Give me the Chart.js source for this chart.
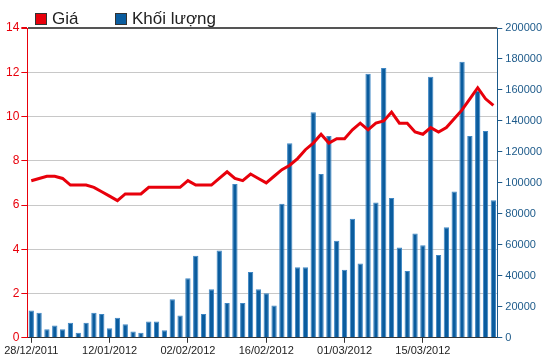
<!DOCTYPE html>
<html>
<head>
<meta charset="utf-8">
<script src="https://cdn.jsdelivr.net/npm/chart.js@4.4.1/dist/chart.umd.min.js"></script>
<style>
  html, body { margin: 0; padding: 0; background: #fff; }
  #wrap { position: relative; width: 550px; height: 364px; }
  #legend { position: absolute; top: 10px; left: 35px; font: 17px "Liberation Sans", Arial, sans-serif; line-height: 17px; color: #222; }
  #legend span.item { position: absolute; white-space: nowrap; }
  #legend i { position: absolute; top: 3px; width: 10px; height: 10px; border: 1px solid #333; }
</style>
</head>
<body>
<div id="wrap">
  <canvas id="chart"></canvas>
  <div id="legend"></div>
</div>
<script>
// Giá / Khối lượng, 28/12/2011 - 28/03/2012

const dates = [
  '28/12/2011', '29/12/2011', '30/12/2011', '03/01/2012', '04/01/2012', '05/01/2012', '06/01/2012', '09/01/2012', '10/01/2012', '11/01/2012',
  '12/01/2012', '13/01/2012', '16/01/2012', '17/01/2012', '18/01/2012', '19/01/2012', '20/01/2012', '30/01/2012', '31/01/2012', '01/02/2012',
  '02/02/2012', '03/02/2012', '06/02/2012', '07/02/2012', '08/02/2012', '09/02/2012', '10/02/2012', '13/02/2012', '14/02/2012', '15/02/2012',
  '16/02/2012', '17/02/2012', '20/02/2012', '21/02/2012', '22/02/2012', '23/02/2012', '24/02/2012', '27/02/2012', '28/02/2012', '29/02/2012',
  '01/03/2012', '02/03/2012', '05/03/2012', '06/03/2012', '07/03/2012', '08/03/2012', '09/03/2012', '12/03/2012', '13/03/2012', '14/03/2012',
  '15/03/2012', '16/03/2012', '19/03/2012', '20/03/2012', '21/03/2012', '22/03/2012', '23/03/2012', '26/03/2012', '27/03/2012', '28/03/2012'
]

const price = [
  7.1, 7.2, 7.3, 7.3, 7.2, 6.9, 6.9, 6.9, 6.8, 6.6,
  6.4, 6.2, 6.5, 6.5, 6.5, 6.8, 6.8, 6.8, 6.8, 6.8,
  7.1, 6.9, 6.9, 6.9, 7.2, 7.5, 7.2, 7.1, 7.4, 7.2,
  7.0, 7.3, 7.6, 7.8, 8.1, 8.5, 8.8, 9.2, 8.8, 9.0,
  9.0, 9.4, 9.7, 9.4, 9.7, 9.8, 10.2, 9.7, 9.7, 9.3,
  9.2, 9.5, 9.3, 9.5, 9.9, 10.3, 10.8, 11.3, 10.8, 10.5
]

const volume = [
  17600, 16100, 5600, 8000, 5600, 9700, 3200, 9700, 16100, 15300,
  6200, 12900, 8800, 4100, 3200, 10500, 10500, 4900, 24900, 14400,
  38500, 52900, 15300, 31400, 56300, 22400, 99300, 22400, 42400, 31400,
  28800, 20900, 86600, 125600, 45600, 45600, 145600, 105800, 130300, 62600,
  43900, 76800, 47900, 170500, 87300, 174200, 90300, 58300, 43200, 67300,
  59800, 168600, 53500, 71400, 94400, 178200, 130300, 159500, 133500, 88800
]

const priceTicks = [0, 2, 4, 6, 8, 10, 12, 14]
const volumeTicks = [0, 20000, 40000, 60000, 80000, 100000, 120000, 140000, 160000, 180000, 200000]

const seriesNames = ['Giá', 'Khối lượng']
const seriesColors = ['#e8000b', '#0a5c9e']

// html legend
const legend = document.getElementById('legend')
const legendX = [0, 80]
seriesNames.forEach((name, i) => {
  const item = document.createElement('span')
  item.className = 'item'
  item.style.left = legendX[i] + 'px'
  item.innerHTML = '<i style="background:' + seriesColors[i] + '"></i><b style="font-weight:normal;margin-left:17px">' + name + '</b>'
  legend.appendChild(item)
})

const font = { family: '"Liberation Sans", Arial, sans-serif', size: 11 }

const ctx = document.getElementById('chart').getContext('2d')
const chart = new Chart(ctx, {
  type: 'bar',
  data: {
    labels: dates,
    datasets: [{
      type: 'line',
      label: seriesNames[0],
      data: price,
      yAxisID: 'y',
      borderColor: seriesColors[0],
      backgroundColor: seriesColors[0],
      borderWidth: 3,
      pointRadius: 0,
      tension: 0,
      order: 0
    }, {
      type: 'bar',
      label: seriesNames[1],
      data: volume,
      yAxisID: 'y1',
      backgroundColor: seriesColors[1],
      borderColor: '#3f87c4',
      borderWidth: { top: 1, left: 1, right: 1, bottom: 0 },
      barPercentage: 0.68,
      categoryPercentage: 1,
      order: 1
    }]
  },
  options: {
    responsive: true,
    maintainAspectRatio: false,
    animation: false,
    layout: { padding: { top: 28, left: 4, right: 5, bottom: 4 } },
    plugins: {
      legend: { display: false },
      tooltip: { enabled: false }
    },
    scales: {
      x: {
        offset: true,
        grid: { drawOnChartArea: false, offset: false, tickLength: 5, tickColor: '#333' },
        border: { color: '#333', width: 1 },
        ticks: {
          autoSkip: false,
          maxRotation: 0,
          padding: 2,
          color: '#222',
          font: font,
          callback: (v, i) => (i % 10 === 0 ? dates[i] : null)
        }
      },
      y: {
        position: 'left',
        min: priceTicks[0],
        max: priceTicks[priceTicks.length - 1],
        afterBuildTicks: axis => { axis.ticks = priceTicks.map(v => ({ value: v })) },
        grid: {
          color: c => (c.tick && c.tick.value === 14 ? '#555' : '#c8c8c8'),
          lineWidth: c => (c.tick && c.tick.value === 14 ? 2 : 1),
          tickColor: '#e8000b',
          tickLength: 6
        },
        border: { color: '#e8000b', width: 1 },
        ticks: { color: '#e8000b', padding: 2, font: { family: font.family, size: 12 } }
      },
      y1: {
        position: 'right',
        min: volumeTicks[0],
        max: volumeTicks[volumeTicks.length - 1],
        afterBuildTicks: axis => { axis.ticks = volumeTicks.map(v => ({ value: v })) },
        grid: { drawOnChartArea: false, tickColor: '#1d5a8a', tickLength: 5 },
        border: { color: '#1d5a8a', width: 1 },
        ticks: { color: '#1d5a8a', padding: 3, font: font, callback: v => String(v) }
      }
    }
  }
})
</script>
</body>
</html>
